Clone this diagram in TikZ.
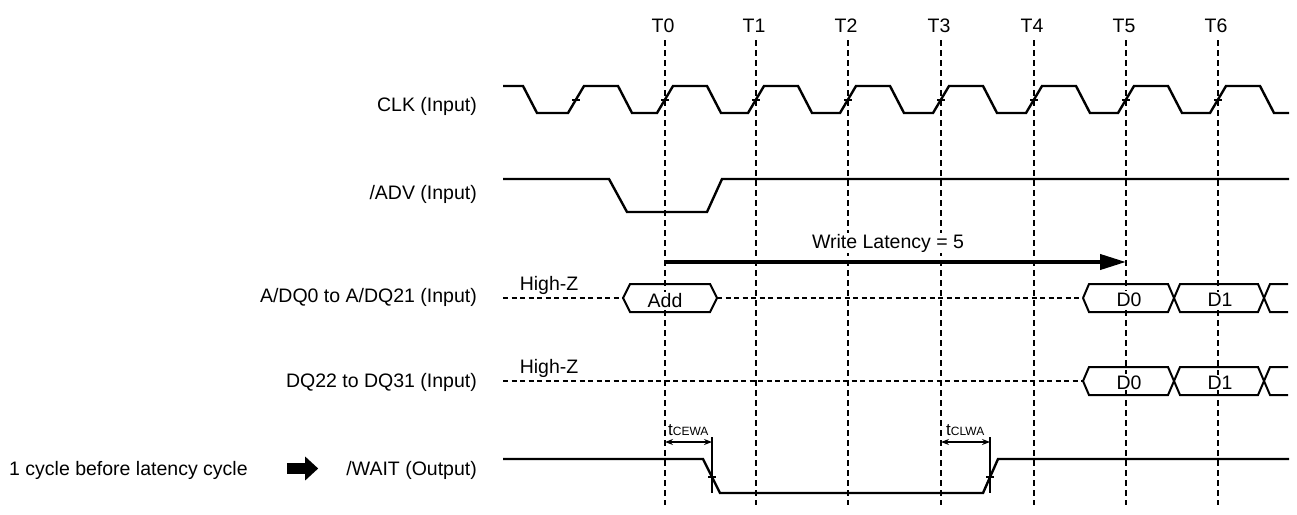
\documentclass[tikz,border=0pt]{standalone}
\usepackage{fontspec}
\setmainfont{Liberation Sans}
\usepackage{xcolor}
\usetikzlibrary{positioning,calc,arrows.meta}

\tikzset{
    sig/.style={line width=2.4pt, line join=miter},
    busline/.style={line width=2pt, line join=miter},
    hiz/.style={line width=2pt, dash pattern=on 5pt off 3.5pt},
    gridline/.style={line width=1.2pt, dash pattern=on 6pt off 4pt},
    tickmark/.style={line width=1.2pt},
    lbl/.style={font=\fontsize{19.5}{22}\selectfont, inner sep=0pt},
    boxtext/.style={lbl, fill=white, inner xsep=1pt, inner ysep=1pt},
    timing/.style={line width=1.2pt, {Stealth[length=8pt,width=6pt]}-{Stealth[length=8pt,width=6pt]}},
}

\begin{document}
\begin{tikzpicture}[x=1pt,y=-1pt]
    \useasboundingbox (0,0) rectangle (1297,514);

    % clock edges T0..T6
    \foreach \t [count=\i from 0] in {665,756,848,941,1034,1126,1218} {
        \coordinate (T\i) at (\t,0);
        \draw[gridline] (\t,40) -- (\t,505);
        \node[lbl, anchor=base] (lblT\i) at (\t-2,32) {T\i};
    }

    % signal names
    \node[lbl, anchor=base east] (clk) at (477,111) {CLK (Input)};
    \node[lbl, anchor=base east] (adv) at (477,199) {/ADV (Input)};
    \node[lbl, anchor=base east] (adq) at (477,302) {A/DQ0 to A/DQ21 (Input)};
    \node[lbl, anchor=base east] (dq) at (477,387) {DQ22 to DQ31 (Input)};
    \node[lbl, anchor=base east] (wait) at (477,475.5) {/WAIT (Output)};
    \node[lbl, anchor=base west] (note) at (9,475.5) {1 cycle before latency cycle};
    \draw[line width=11pt, -{Triangle[length=13pt,width=23pt]}]
        ([xshift=39pt]note.east |- 0,468.5) -- ([xshift=-28pt]wait.west |- 0,468.5);

    % CLK
    \draw[sig] (503,86) -- (523,86) -- (537,113)
        \foreach \t in {576,665,756,848,941,1034,1126,1218} {
            -- (\t-8,113) -- (\t+8,86) -- (\t+42,86) -- (\t+56,113)
        } -- (1289,113);
    \foreach \t in {576,665,756,848,941,1034,1126,1218}
        \draw[tickmark] (\t-4,100) -- (\t+4,100);

    % /ADV
    \draw[sig] (503,179) -- (609,179) -- (627,212) -- (707,212) -- (722,179) -- (1289,179);

    % write latency
    \draw[line width=4pt, -{Triangle[length=26pt,width=15pt]}] (T0 |- 0,262) -- (T5 |- 0,262);
    \node[boxtext, anchor=base] (lat) at (888,248) {Write Latency = 5};

    % A/DQ0 to A/DQ21
    \node[lbl, anchor=base] (hz1) at (549,290) {High-Z};
    \draw[hiz] (503,298) -- (623,298);
    \draw[busline] (623,298) -- (630,284) -- (710,284) -- (717,298) -- (710,312) -- (630,312) -- cycle;
    \node[boxtext, anchor=base] (add) at (665,307) {Add};
    \draw[hiz] (717,298) -- (1083,298);
    \draw[busline] (1083,298) -- (1089,284) -- (1168,284) -- (1180,312) -- (1258,312) -- (1270,284) -- (1288,284);
    \draw[busline] (1083,298) -- (1089,312) -- (1168,312) -- (1180,284) -- (1258,284) -- (1270,312) -- (1288,312);
    \node[boxtext, anchor=base] (d0a) at (1129,306) {D0};
    \node[boxtext, anchor=base] (d1a) at (1220,306) {D1};

    % DQ22 to DQ31
    \node[lbl, anchor=base] (hz2) at (549,373) {High-Z};
    \draw[hiz] (503,381) -- (1083,381);
    \draw[busline] (1083,381) -- (1089,367) -- (1168,367) -- (1180,395) -- (1258,395) -- (1270,367) -- (1288,367);
    \draw[busline] (1083,381) -- (1089,395) -- (1168,395) -- (1180,367) -- (1258,367) -- (1270,395) -- (1288,395);
    \node[boxtext, anchor=base] (d0b) at (1129,389) {D0};
    \node[boxtext, anchor=base] (d1b) at (1220,389) {D1};

    % /WAIT
    \draw[sig] (503,459) -- (703,459) -- (720,493) -- (983,493) -- (998,459) -- (1289,459);
    \draw[tickmark] (708,477) -- (716,477);
    \draw[tickmark] (986,477) -- (994,477);
    \coordinate (cewa) at (712,442);
    \coordinate (clwa) at (990,442);
    \draw[tickmark] (712,437) -- (712,493);
    \draw[tickmark] (990,437) -- (990,493);
    \draw[timing] (T0 |- cewa) -- (cewa);
    \draw[timing] (T3 |- clwa) -- (clwa);
    \node[anchor=base west, inner sep=0pt] (tcewa) at (668,435)
        {\fontsize{17}{18}\selectfont t\fontsize{12}{13}\selectfont CEWA};
    \node[anchor=base west, inner sep=0pt] (tclwa) at (946,435)
        {\fontsize{17}{18}\selectfont t\fontsize{12}{13}\selectfont CLWA};
\end{tikzpicture}
\end{document}
